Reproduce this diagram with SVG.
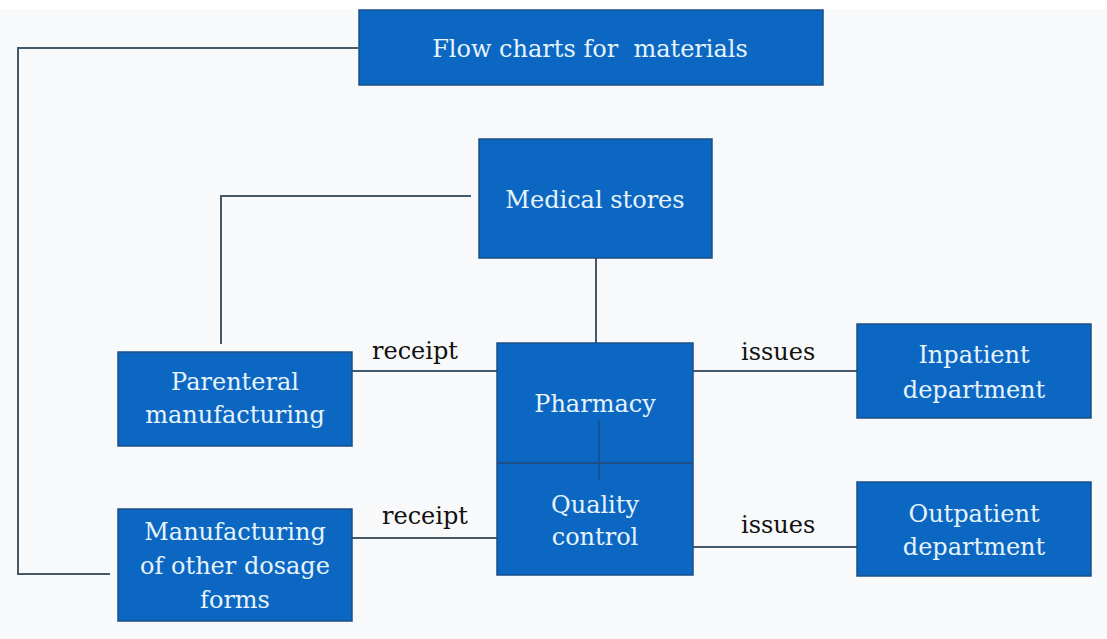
<svg xmlns="http://www.w3.org/2000/svg" width="1107" height="639" viewBox="0 0 1107 639">
<style>
.box{fill:#0b67c2;stroke:#1b4f86;stroke-width:1.5}
.bt{font-family:"DejaVu Serif",serif;font-size:24px;fill:#e6f3fb;text-anchor:middle}
.lbl{font-family:"DejaVu Serif",serif;font-size:24px;fill:#111}
.ln{fill:none;stroke:#44586a;stroke-width:2}
</style>
<rect x="0" y="0" width="1107" height="639" fill="#f7f9fa"/>
<rect x="0" y="0" width="1107" height="9" fill="#ffffff"/>
<g id="connectors">
<polyline class="ln" points="358,48 18,48 18,574 110,574"/>
<polyline class="ln" points="471,196 221,196 221,344"/>
<line class="ln" x1="596" y1="258" x2="596" y2="343"/>
<line class="ln" x1="352" y1="371" x2="497" y2="371"/>
<line class="ln" x1="352" y1="538" x2="497" y2="538"/>
<line class="ln" x1="693" y1="371" x2="857" y2="371"/>
<line class="ln" x1="693" y1="547" x2="877" y2="547"/>
<text class="lbl" x="372" y="359">receipt</text>
<text class="lbl" x="382" y="524">receipt</text>
<text class="lbl" x="741" y="360">issues</text>
<text class="lbl" x="741" y="533">issues</text>
</g>
<g id="flow-charts">
<rect class="box" x="359" y="10" width="464" height="75"/>
<text class="bt" x="590" y="57" xml:space="preserve">Flow charts for  materials</text>
</g>
<g id="medical-stores">
<rect class="box" x="479" y="139" width="233" height="119"/>
<text class="bt" x="595" y="208">Medical stores</text>
</g>
<g id="parenteral">
<rect class="box" x="118" y="352" width="234" height="94"/>
<text class="bt" x="235" y="390">Parenteral</text>
<text class="bt" x="235" y="423">manufacturing</text>
</g>
<g id="manufacturing-other">
<rect class="box" x="118" y="509" width="234" height="112"/>
<text class="bt" x="235" y="540">Manufacturing</text>
<text class="bt" x="235" y="574">of other dosage</text>
<text class="bt" x="235" y="608">forms</text>
</g>
<g id="pharmacy-qc">
<rect class="box" x="497" y="343" width="196" height="232"/>
<line x1="497" y1="463" x2="693" y2="463" stroke="#1b4f86" stroke-width="2"/>
<line x1="599" y1="420" x2="599" y2="480" stroke="#1b4f86" stroke-width="1.5"/>
<text class="bt" x="595" y="412">Pharmacy</text>
<text class="bt" x="595" y="513">Quality</text>
<text class="bt" x="595" y="545">control</text>
</g>
<g id="inpatient">
<rect class="box" x="857" y="324" width="234" height="94"/>
<text class="bt" x="974" y="363">Inpatient</text>
<text class="bt" x="974" y="398">department</text>
</g>
<g id="outpatient">
<rect class="box" x="857" y="482" width="234" height="94"/>
<text class="bt" x="974" y="522">Outpatient</text>
<text class="bt" x="974" y="555">department</text>
</g>
</svg>
